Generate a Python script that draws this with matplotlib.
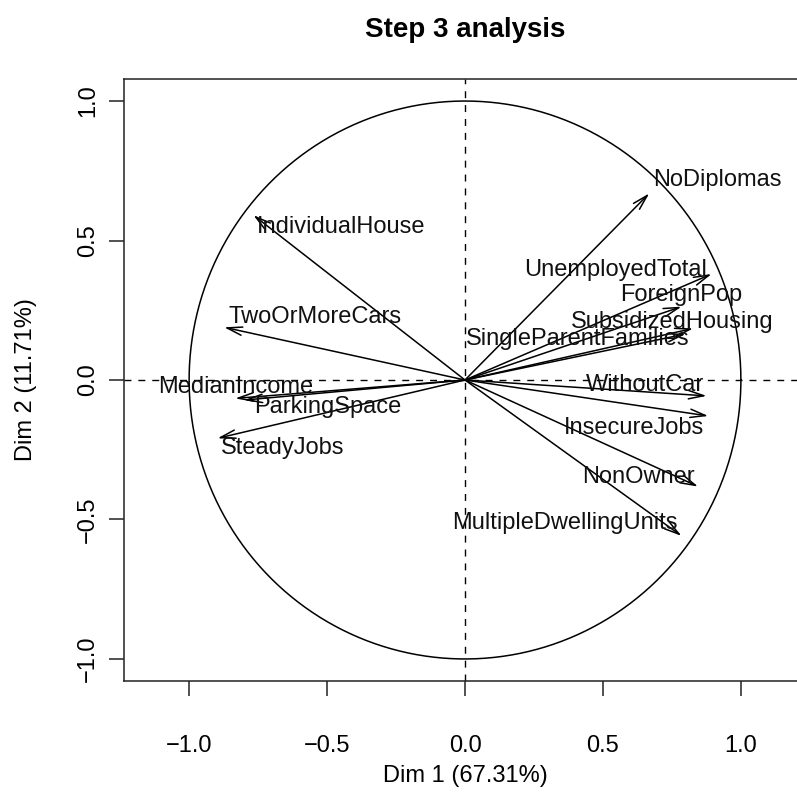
import numpy as np
import matplotlib
matplotlib.use("Agg")
import matplotlib.pyplot as plt

# Variables and their coordinates on Dim 1 / Dim 2
variables = ["NoDiplomas", "UnemployedTotal", "ForeignPop", "SubsidizedHousing",
             "SingleParentFamilies", "WithoutCar", "InsecureJobs", "NonOwner",
             "MultipleDwellingUnits", "IndividualHouse", "TwoOrMoreCars",
             "MedianIncome", "ParkingSpace", "SteadyJobs"]
dim1 = [0.668, 0.894, 0.785, 0.827, 0.80, 0.876, 0.882, 0.845, 0.785,
        -0.767, -0.873, -0.833, -0.80, -0.897]
dim2 = [0.669, 0.380, 0.263, 0.185, 0.165, -0.057, -0.129, -0.382, -0.559,
        0.591, 0.189, -0.066, -0.072, -0.209]

# label placement (repelled positions, data coords)
label_x = [0.915, 0.546, 0.785, 0.752, 0.410, 0.652, 0.613, 0.628, 0.363,
           -0.450, -0.545, -0.830, -0.496, -0.660]
label_y = [0.717, 0.394, 0.305, 0.209, 0.146, -0.018, -0.173, -0.347, -0.514,
           0.549, 0.227, -0.024, -0.097, -0.245]

ticks = [-1.0, -0.5, 0.0, 0.5, 1.0]
tick_labels = ["\u22121.0", "\u22120.5", "0.0", "0.5", "1.0"]

plt.rcParams['font.family'] = ['Liberation Sans', 'DejaVu Sans']

W, H = 797, 798
fig = plt.figure(figsize=(W / 100, H / 100), dpi=100)
ax = fig.add_axes([124 / W, (H - 681) / H, (806 - 124) / W, (681 - 79) / H])
ax.set_xlim(-1.236, 1.236)
ax.set_ylim(-1.079, 1.079)

lw = 1.1
for s in ax.spines.values():
    s.set_linewidth(lw)
    s.set_color('#222222')

# circle
t = np.linspace(0, 2 * np.pi, 400)
ax.plot(np.cos(t), np.sin(t), color='black', lw=lw)

# dashed axes
ax.axhline(0, color='black', lw=1.0, dashes=(5, 5))
ax.axvline(0, color='black', lw=1.0, dashes=(5, 5))

for x, y in zip(dim1, dim2):
    ax.annotate("", xy=(x, y), xytext=(0, 0),
                arrowprops=dict(arrowstyle='->,head_length=1.1,head_width=0.3',
                                color='black', lw=lw, shrinkA=0, shrinkB=0))

for name, lx, ly in zip(variables, label_x, label_y):
    ax.text(lx, ly, name, fontsize=17, ha='center', va='center', color='#111111')

ax.set_xticks(ticks)
ax.set_xticklabels(tick_labels)
ax.set_yticks(ticks)
ax.set_yticklabels(tick_labels, rotation=90, va='center')
ax.tick_params(axis='both', length=11, width=lw, labelsize=17, color='#222222')
ax.tick_params(axis='x', pad=28)
ax.tick_params(axis='y', pad=7)

fig.text(465 / W, 1 - 30 / H, "Step 3 analysis", fontsize=20, fontweight='bold',
         ha='center', va='center')
fig.text(465 / W, 1 - 776 / H, "Dim 1 (67.31%)", fontsize=17, ha='center', va='center')
fig.text(26 / W, 1 - 380 / H, "Dim 2 (11.71%)", fontsize=17, ha='center', va='center',
         rotation=90)

fig.savefig("out.png", dpi=100)
